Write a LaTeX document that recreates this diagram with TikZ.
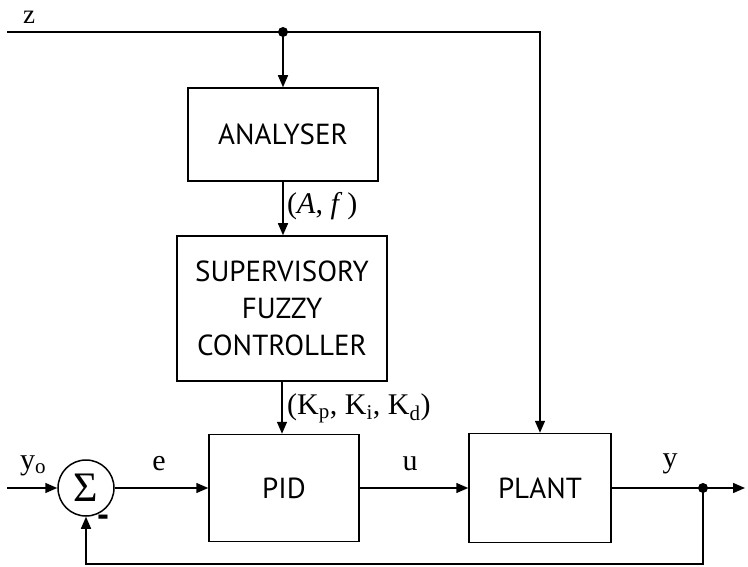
\documentclass[tikz,border=0pt]{standalone}
\usepackage{fontspec}
\setmainfont{Liberation Serif}
\newfontfamily\boxfont{PT Sans}
\usepackage{tikz}
\usetikzlibrary{arrows.meta,positioning,calc}

\tikzset{
  blk/.style={draw,line width=1.5pt,align=center,inner sep=0pt,
    font=\boxfont\fontsize{29}{37}\selectfont},
  sumnode/.style={draw,circle,line width=1.5pt,minimum size=56pt,inner sep=0pt},
  lbl/.style={inner sep=0pt,font=\fontsize{30}{32}\selectfont},
  arr/.style={line width=1.5pt,-{Triangle[length=12pt,width=10pt]}},
  sig/.style={line width=1.5pt},
}

\begin{document}
\begin{tikzpicture}[x=1pt,y=-1pt]
  \useasboundingbox (0,0) rectangle (748,567);
  % supervisory fuzzy PID loop: analyser and fuzzy tuner above the main loop
  \node[blk,minimum width=190pt,minimum height=93pt] (ana) at (283,134.5) {ANALYSER};
  \node[blk,minimum width=210pt,minimum height=145pt] (sfc) at (282,308.5)
    {SUPERVISORY\\FUZZY\\CONTROLLER};
  \node[blk,minimum width=150pt,minimum height=107pt] (pid) at (284,488) {PID};
  \node[blk,minimum width=142pt,minimum height=109pt] (plant) at (540,488) {PLANT};
  \node[sumnode] (sum) at (86,488) {\fontsize{42}{42}\selectfont Σ};

  \coordinate (zin) at (7,32);
  \coordinate (zdot) at (283,32);
  \coordinate (yin) at (7,488);
  \coordinate (ydot) at (703,488);
  \coordinate (yout) at (745,488);
  \coordinate (fb) at (703,564);

  \draw[arr] (zin) -| (plant.north);
  \draw[arr] (zdot) -- (ana.north);
  \draw[arr] (ana.south) -- (ana.south |- sfc.north);
  \draw[arr] (sfc.south) -- (sfc.south |- pid.north);
  \draw[arr] (yin) -- (sum.west);
  \draw[arr] (sum.east) -- (pid.west);
  \draw[arr] (pid.east) -- (plant.west);
  \draw[arr] (plant.east) -- (yout);
  \draw[arr] (ydot) -- (fb) -| (sum.south);
  \fill (zdot) circle (5pt);
  \fill (ydot) circle (5pt);

  \node[lbl,anchor=base,font=\fontsize{27}{27}\selectfont] (zlbl) at (29,24) {z};
  \node[lbl] (yolbl) at (33,466) {y\textsubscript{o}};
  \node[lbl] (elbl) at (159,464) {e};
  \node[lbl] (ulbl) at (410,464) {u};
  \node[lbl] (ylbl) at (670,464) {y};
  \node[lbl,font=\boxfont\bfseries\fontsize{36}{36}\selectfont] (minus) at (103,521) {-};
  \node[lbl,anchor=west] (aflbl) at (287,206) {(\textit{A}, \textit{f}\,)};
  \node[lbl,anchor=west] (klbl) at (287,408)
    {(K\textsubscript{p}, K\textsubscript{i}, K\textsubscript{d})};
\end{tikzpicture}
\end{document}
